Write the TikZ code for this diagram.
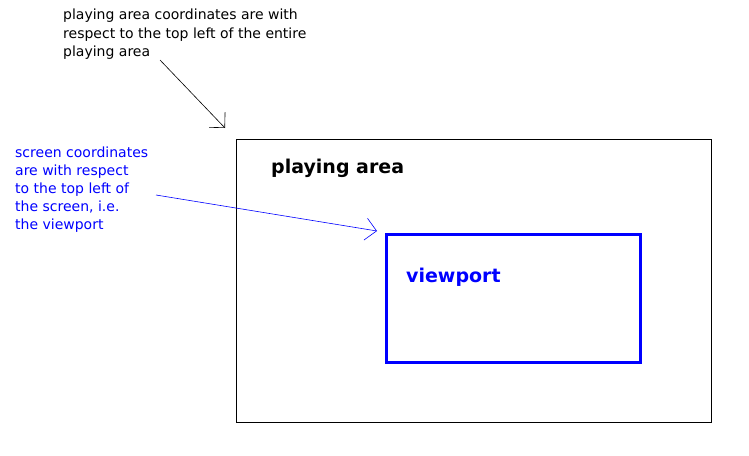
\documentclass[tikz,border=0pt]{standalone}
\usepackage{fontspec}
\setmainfont{DejaVu Sans}
\usetikzlibrary{arrows.meta}
\begin{document}
\begin{tikzpicture}[x=1pt,y=-1pt,
  note/.style={align=left,anchor=base west,inner sep=0pt,font=\fontsize{14}{18}\selectfont},
  title/.style={anchor=base west,inner sep=0pt,font=\bfseries\fontsize{19}{21}\selectfont},
  pointer/.style={-{Straight Barb[length=11pt,width=22pt,line width=0.6pt]},line width=0.6pt}]
\useasboundingbox[fill=white] (0,0) rectangle (749,455);
\draw[line width=0.9pt] (236,139) coordinate (atl) rectangle (711,422) coordinate (abr);
\draw[blue,line width=3pt] (386,234) coordinate (vtl) rectangle (640,362) coordinate (vbr);
\node[title] (areal) at (271,173) {playing area};
\node[title,blue] (viewl) at (406,282) {viewport};
\node[note] (pnote) at (63,56) {playing area coordinates are with\\respect to the top left of the entire\\playing area};
\node[note,blue] (snote) at (15,229) {screen coordinates\\are with respect\\to the top left of\\the screen, i.e.\\the viewport};
\coordinate (p1) at (160,60);
\coordinate (p2) at (225,128);
\draw[pointer] (p1) -- (p2);
\coordinate (s1) at (156,195);
\coordinate (s2) at (377,231);
\draw[pointer,blue] (s1) -- (s2);
\end{tikzpicture}
\end{document}
